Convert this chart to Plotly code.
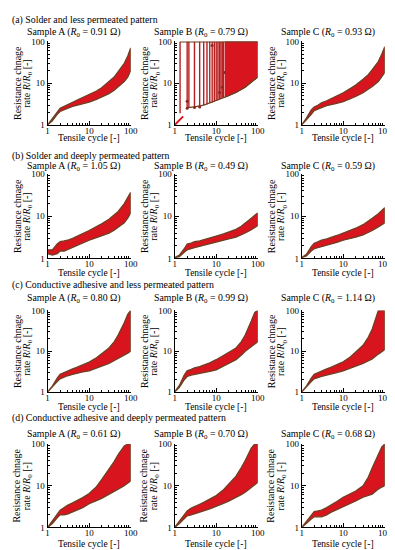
import plotly.graph_objects as go

# ---------------- data ----------------
cycles = [1, 1.3, 1.7, 2, 2.5, 3, 4, 5, 7, 10, 15, 20, 30, 40, 50, 70, 85, 100]

# (a) Solder and less permeated pattern
a_A_low = [1, 1.25, 1.8, 2.1, 2.3, 2.5, 2.8, 3.0, 3.2, 3.5, 4.1, 4.6, 5.6, 6.8, 8.0, 11, 14, 20]
a_A_high = [1, 1.4, 2.1, 2.5, 2.8, 3.1, 3.5, 3.9, 4.5, 5.3, 6.5, 7.8, 11, 14, 19, 30, 45, 70]
a_C_low = [1, 1.3, 1.8, 2.2, 2.4, 2.6, 2.9, 3.1, 3.3, 3.6, 4.2, 4.8, 5.9, 7.0, 8.3, 11, 14, 18]
a_C_high = [1, 1.45, 2.3, 2.7, 3.0, 3.4, 3.8, 4.2, 4.9, 5.9, 7.5, 9.0, 12.5, 16, 21, 33, 50, 75]
# sample B of (a): spikes up to saturation
aB_start_cycles = [1, 1.2, 1.4, 1.6]
aB_start_vals = [1, 1.2, 1.4, 1.6]
aB_env_cycles = [2, 3, 5, 10, 16, 20, 30, 50, 70, 100]
aB_env_low = [2.6, 2.7, 3.0, 3.8, 4.6, 5.0, 6.0, 8.0, 10.5, 14]
aB_ceiling = 100
aB_spike_cycles = [1.35, 2, 2.2, 3, 4, 5, 6, 7, 8, 9, 10, 11, 12, 13, 14, 15]
aB_spike_low = [1.9, 2.6, 2.6, 2.7, 2.8, 3.0, 3.1, 3.3, 3.4, 3.6, 3.8, 3.9, 4.1, 4.2, 4.4, 4.5]
aB_dot_cycles = [2, 2, 3, 4, 8, 12, 14, 16]
aB_dot_vals = [3.7, 2.5, 2.6, 2.7, 80, 6, 8, 18]

# (b) Solder and deeply permeated pattern
b_A_low = [1.3, 1.2, 1.3, 1.5, 1.5, 1.6, 1.8, 2.0, 2.3, 2.7, 3.1, 3.4, 4.0, 4.7, 5.4, 7.0, 9.0, 12]
b_A_high = [1.6, 1.6, 2.2, 2.5, 2.6, 2.7, 3.0, 3.3, 3.8, 4.6, 5.7, 6.6, 8.5, 10.5, 13, 20, 27, 37]
b_B_low = [1.05, 1.1, 1.4, 1.6, 1.7, 1.8, 2.0, 2.1, 2.3, 2.5, 2.7, 2.9, 3.2, 3.6, 4.0, 4.8, 5.3, 6.0]
b_B_high = [1.05, 1.2, 1.7, 2.2, 2.3, 2.5, 2.6, 2.8, 3.1, 3.4, 3.8, 4.2, 4.9, 5.8, 6.8, 9.0, 10.5, 12]
b_C_low = [1.05, 1.15, 1.5, 1.7, 1.8, 1.9, 2.1, 2.2, 2.4, 2.7, 3.0, 3.2, 3.6, 4.1, 4.6, 5.6, 6.2, 7.0]
b_C_high = [1.05, 1.25, 1.9, 2.3, 2.5, 2.7, 2.9, 3.1, 3.5, 4.0, 4.6, 5.2, 6.3, 7.6, 9.0, 11.5, 13.5, 16]

# (c) Conductive adhesive and less permeated pattern
c_A_low = [1, 1.3, 1.8, 2.1, 2.3, 2.5, 2.7, 2.9, 3.1, 3.3, 3.8, 4.3, 5.0, 5.8, 6.5, 8.0, 9.0, 10]
c_A_high = [1, 1.4, 2.2, 2.7, 3.0, 3.3, 3.7, 4.0, 4.6, 5.4, 6.9, 8.5, 12, 17, 25, 50, 80, 100]
c_B_low = [1, 1.3, 2.0, 2.4, 2.6, 2.7, 2.9, 3.0, 3.2, 3.5, 4.3, 5.0, 6.2, 8.0, 10, 13, 15, 17]
c_B_high = [1, 1.45, 2.6, 3.3, 3.6, 3.9, 4.2, 4.5, 5.2, 6.2, 7.8, 9.5, 12, 17, 25, 55, 90, 100]
c_C_low = [1, 1.3, 1.8, 2.1, 2.3, 2.4, 2.6, 2.8, 3.0, 3.3, 3.8, 4.3, 5.0, 5.8, 6.5, 8.5, 10, 11]
c_C_high = [1, 1.4, 2.2, 2.7, 3.0, 3.3, 3.7, 4.0, 4.6, 5.5, 7.3, 9.5, 14, 22, 35, 100, 100, 100]

# (d) Conductive adhesive and deeply permeated pattern
d_A_low = [1, 1.25, 1.7, 2.0, 2.0, 2.1, 2.3, 2.6, 3.0, 3.7, 4.4, 5.0, 6.3, 7.3, 8.3, 10, 11.5, 13]
d_A_high = [1, 1.4, 2.1, 2.6, 3.0, 3.4, 3.9, 4.3, 5.2, 6.5, 9.5, 14, 25, 38, 56, 90, 100, 100]
d_B_low = [1, 1.25, 1.6, 1.9, 2.0, 2.1, 2.3, 2.5, 2.8, 3.2, 3.8, 4.3, 5.2, 6.1, 7.0, 9.0, 10.5, 12]
d_B_high = [1, 1.4, 2.0, 2.5, 2.9, 3.2, 3.6, 4.0, 4.7, 5.8, 8.0, 11, 17, 27, 40, 80, 100, 100]
d_C_low = [1, 1.25, 1.6, 1.8, 1.8, 1.8, 2.0, 2.3, 2.7, 3.1, 3.8, 4.3, 5.3, 5.8, 6.3, 8.3, 9.3, 10]
d_C_high = [1, 1.4, 2.0, 2.4, 2.5, 2.6, 3.0, 3.4, 4.2, 5.3, 6.5, 7.5, 10, 16, 27, 56, 85, 100]

row_titles = ["(a) Solder and less permeated pattern",
              "(b) Solder and deeply permeated pattern",
              "(c) Conductive adhesive and less permeated pattern",
              "(d) Conductive adhesive and deeply permeated pattern"]
sample_names = ["A", "B", "C"]
r0_values = [["0.91", "0.79", "0.93"],
             ["1.05", "0.49", "0.59"],
             ["0.80", "0.99", "1.14"],
             ["0.61", "0.70", "0.68"]]
major_ticks = [1, 10, 100]
major_labels = ["1", "10", "100"]
minor_ticks = [2, 3, 4, 5, 6, 7, 8, 9, 20, 30, 40, 50, 60, 70, 80, 90]

bands = {
    (0, 0): (a_A_low, a_A_high), (0, 2): (a_C_low, a_C_high),
    (1, 0): (b_A_low, b_A_high), (1, 1): (b_B_low, b_B_high), (1, 2): (b_C_low, b_C_high),
    (2, 0): (c_A_low, c_A_high), (2, 1): (c_B_low, c_B_high), (2, 2): (c_C_low, c_C_high),
    (3, 0): (d_A_low, d_A_high), (3, 1): (d_B_low, d_B_high), (3, 2): (d_C_low, d_C_high),
}

# ---------------- layout geometry ----------------
W, H = 395, 550
FONT = "Liberation Serif"
RED = "#d8151f"
EDGE = "#6e3f22"
col_left = [0, 130, 260]
col_x0 = [38.5, 168.5, 298.5]
col_w = 85
row_top = [29, 164, 303, 439]
row_bot = [114, 250, 386, 524]
row_title_y = [7, 146, 277, 412]
sample_y = [19, 156, 290, 429]
xtitle_off = [13, 15, 15, 17]

fig = go.Figure()
annotations = []


def px(x):
    return x / W


def py(y):
    return 1 - y / H


def ax_names(k):
    s = "" if k == 1 else str(k)
    return "x" + s, "y" + s, "xaxis" + s, "yaxis" + s


for r in range(4):
    annotations.append(dict(x=px(0), y=py(row_title_y[r]), xref="paper", yref="paper",
                            text=row_titles[r], showarrow=False, xanchor="left", yanchor="middle",
                            font=dict(family=FONT, size=9.8, color="black")))
    for c in range(3):
        k = r * 3 + c + 1
        xn, yn, xa, ya = ax_names(k)
        axis_common = dict(type="log", range=[0, 2], showline=True, linecolor="black", linewidth=1,
                           ticks="inside", ticklen=4, tickcolor="black", tickmode="array",
                           tickvals=major_ticks, ticktext=major_labels, showgrid=False, zeroline=False,
                           ticklabeloverflow="allow",
                           tickfont=dict(family=FONT, size=9, color="black"),
                           minor=dict(ticks="inside", ticklen=2, tickcolor="black", tickmode="array",
                                      tickvals=minor_ticks, showgrid=False))
        fig.layout[xa] = dict(axis_common, domain=[px(col_x0[c]), px(col_x0[c] + col_w)], anchor=yn,
                              ticklabelstandoff=-3)
        fig.layout[ya] = dict(axis_common, domain=[py(row_bot[r]), py(row_top[r])], anchor=xn)

        if (r, c) in bands:
            lo, hi = bands[(r, c)]
            fig.add_trace(go.Scatter(x=cycles + cycles[::-1], y=hi + lo[::-1], mode="lines",
                                     fill="toself", fillcolor=RED, line=dict(color=EDGE, width=1.3),
                                     xaxis=xn, yaxis=yn, showlegend=False, hoverinfo="skip"))
        else:
            # (a) sample B: spikes to saturation
            sx, sy = [], []
            for cyc, lo in zip(aB_spike_cycles, aB_spike_low):
                sx += [cyc, cyc, None]
                sy += [lo, aB_ceiling, None]
            fig.add_trace(go.Scatter(x=sx, y=sy, mode="lines", line=dict(color="#b81e1e", width=1.4),
                                     xaxis=xn, yaxis=yn, showlegend=False, hoverinfo="skip"))
            sat_x = [cx for cx in aB_env_cycles if cx >= 16]
            sat_lo = [v for cx, v in zip(aB_env_cycles, aB_env_low) if cx >= 16]
            fig.add_trace(go.Scatter(x=sat_x + sat_x[::-1], y=[aB_ceiling] * len(sat_x) + sat_lo[::-1],
                                     mode="lines", fill="toself", fillcolor=RED,
                                     line=dict(color=EDGE, width=1),
                                     xaxis=xn, yaxis=yn, showlegend=False, hoverinfo="skip"))
            fig.add_trace(go.Scatter(x=aB_env_cycles, y=aB_env_low, mode="lines",
                                     line=dict(color=EDGE, width=1.3),
                                     xaxis=xn, yaxis=yn, showlegend=False, hoverinfo="skip"))
            fig.add_trace(go.Scatter(x=[aB_spike_cycles[0], 100], y=[aB_ceiling, aB_ceiling], mode="lines",
                                     line=dict(color=EDGE, width=2),
                                     xaxis=xn, yaxis=yn, showlegend=False, hoverinfo="skip"))
            fig.add_trace(go.Scatter(x=aB_start_cycles, y=aB_start_vals, mode="lines",
                                     line=dict(color=RED, width=2),
                                     xaxis=xn, yaxis=yn, showlegend=False, hoverinfo="skip"))
            fig.add_trace(go.Scatter(x=aB_dot_cycles, y=aB_dot_vals, mode="markers",
                                     marker=dict(color="#8a2a1c", size=3),
                                     xaxis=xn, yaxis=yn, showlegend=False, hoverinfo="skip"))

        # sample label
        annotations.append(dict(x=px(col_left[c] + 15), y=py(sample_y[r]), xref="paper", yref="paper",
                                text=f"Sample {sample_names[c]} (<i>R</i><sub>0</sub> = {r0_values[r][c]} Ω)",
                                showarrow=False, xanchor="left", yanchor="middle",
                                font=dict(family=FONT, size=9.8, color="black")))
        # y title (two lines)
        yc = (row_top[r] + row_bot[r]) / 2
        annotations.append(dict(x=px(col_left[c] + 7), y=py(yc), xref="paper", yref="paper",
                                text="Resistance chnage", textangle=-90, showarrow=False,
                                xanchor="center", yanchor="middle",
                                font=dict(family=FONT, size=10, color="black")))
        annotations.append(dict(x=px(col_left[c] + 18), y=py(yc), xref="paper", yref="paper",
                                text="rate <i>R</i>/<i>R</i><sub>0</sub> [-]", textangle=-90, showarrow=False,
                                xanchor="center", yanchor="middle",
                                font=dict(family=FONT, size=10, color="black")))
        # x title
        annotations.append(dict(x=px(col_x0[c] + col_w / 2), y=py(row_bot[r] + xtitle_off[r]),
                                xref="paper", yref="paper",
                                text="Tensile cycle [-]", showarrow=False, xanchor="center", yanchor="middle",
                                font=dict(family=FONT, size=9.5, color="black")))

fig.update_layout(width=W, height=H, margin=dict(l=0, r=0, t=0, b=0),
                  paper_bgcolor="white", plot_bgcolor="white", annotations=annotations,
                  showlegend=False)
fig.write_html("out.html")
